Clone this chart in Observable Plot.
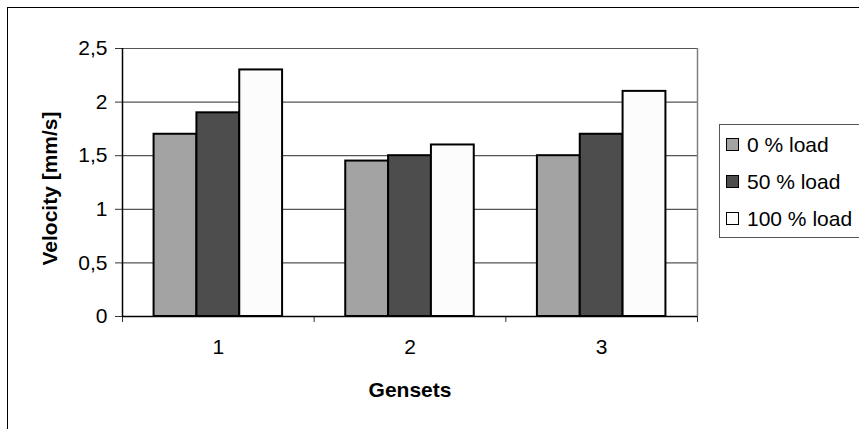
<!DOCTYPE html>
<html>
<head>
<meta charset="utf-8">
<script src="https://cdn.jsdelivr.net/npm/d3@7"></script>
<script src="https://cdn.jsdelivr.net/npm/@observablehq/plot@0.6"></script>
<style>
  html, body { margin: 0; padding: 0; background: #fff; }
  #wrap { position: relative; width: 859px; height: 429px; overflow: hidden; background: #fff;
          font-family: "Liberation Sans", Arial, sans-serif; }
  #border { position: absolute; left: 7px; top: 7px; width: 900px; height: 500px;
            border-left: 1.5px solid #000; border-top: 1.5px solid #000; box-sizing: border-box; }
  #chart { position: absolute; left: 0; top: 0; }
  #legend { position: absolute; left: 719px; top: 124px; width: 160px; height: 114px;
            border: 1.5px solid #555; box-sizing: border-box; background: #fff; padding-top: 1px; }
  .row { height: 37px; display: flex; align-items: center; font-size: 21px; color: #000; }
  .sw { width: 11px; height: 11px; border: 1.5px solid #000; margin-left: 6px; margin-right: 8px; flex: none; }
</style>
</head>
<body>
<div id="wrap">
  <div id="border"></div>
  <div id="chart"></div>
  <div id="legend"></div>
</div>
<script>
const gensets = [1, 2, 3];
const seriesNames = ["0 % load", "50 % load", "100 % load"];
const seriesColors = ["#a3a3a3", "#4d4d4d", "#fcfcfc"];
const load0 = [1.7, 1.45, 1.5];
const load50 = [1.9, 1.5, 1.7];
const load100 = [2.3, 1.6, 2.1];
const yTicks = [0, 0.5, 1, 1.5, 2, 2.5];
const xAxisLabel = "Gensets";
const yAxisLabel = "Velocity [mm/s]";

const seriesValues = [load0, load50, load100];
const barW = 0.2235;
const rows = [];
seriesValues.forEach((vals, si) => {
  vals.forEach((v, gi) => {
    const g = gensets[gi];
    const x1 = g - 1.5 * barW + si * barW;
    rows.push({genset: g, series: seriesNames[si], x1, x2: x1 + barW, value: v, color: seriesColors[si]});
  });
});
const boundaries = [0.5, 1.5, 2.5, 3.5];
const fmt = d => String(d).replace(".", ",");

const plot = Plot.plot({
  width: 859,
  height: 429,
  marginLeft: 122,
  marginRight: 162,
  marginTop: 48,
  marginBottom: 113,
  style: {fontFamily: "'Liberation Sans', Arial, sans-serif", fontSize: "21px", color: "#000", background: "transparent"},
  x: {domain: [0.5, 3.5]},
  y: {domain: [0, 2.5]},
  marks: [
    Plot.gridY(yTicks.filter(d => d > 0), {stroke: "#555", strokeOpacity: 1, strokeWidth: 1.2}),
    Plot.ruleX([3.5], {y1: 0, y2: 2.5, stroke: "#808080", strokeWidth: 1.5}),
    Plot.rectY(rows, {x1: "x1", x2: "x2", y: "value", fill: "color", stroke: "#000", strokeWidth: 2}),
    Plot.axisY({ticks: yTicks, tickFormat: fmt, tickSize: 7, tickPadding: 8, fontSize: 21, label: null, stroke: "#333"}),
    Plot.ruleX([0.5], {y1: 0, y2: 2.5, stroke: "#000", strokeWidth: 1.5}),
    Plot.axisX({ticks: boundaries, tickFormat: () => "", tickSize: 6, label: null, stroke: "#333"}),
    Plot.axisX({ticks: gensets, tickFormat: d => String(d), tickSize: 0, tickPadding: 23, fontSize: 21, label: null}),
    Plot.ruleY([0], {stroke: "#000", strokeWidth: 1.5}),
    Plot.text([yAxisLabel], {frameAnchor: "left", textAnchor: "middle", rotate: -90, dx: -72, dy: 6, fontSize: 21, fontWeight: "bold", fill: "#000"}),
    Plot.text([xAxisLabel], {frameAnchor: "bottom", lineAnchor: "middle", dy: 73.5, dx: 0, fontSize: 21, fontWeight: "bold", fill: "#000", style: "letter-spacing:0.6px"})
  ]
});
document.getElementById("chart").appendChild(plot);

const legend = document.getElementById("legend");
seriesNames.forEach((name, i) => {
  const row = document.createElement("div");
  row.className = "row";
  const sw = document.createElement("span");
  sw.className = "sw";
  sw.style.background = seriesColors[i];
  const t = document.createElement("span");
  t.textContent = name;
  row.appendChild(sw);
  row.appendChild(t);
  legend.appendChild(row);
});
</script>
</body>
</html>
